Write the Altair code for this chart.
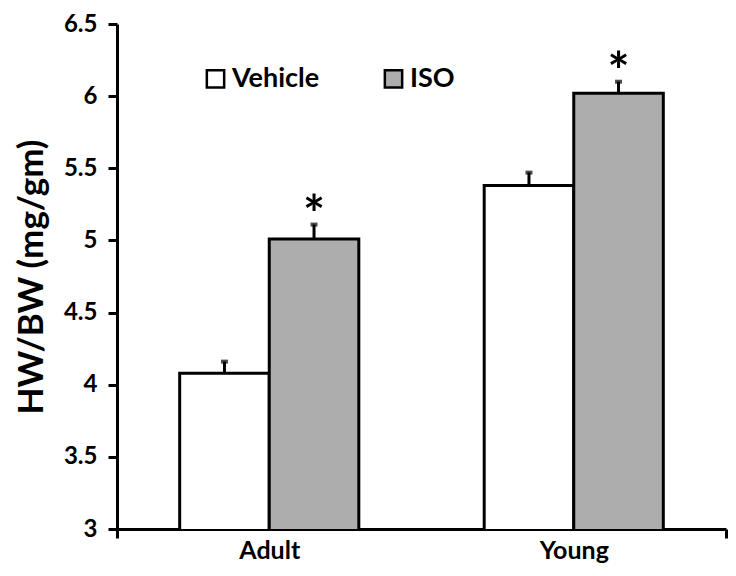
import altair as alt
import pandas as pd

categories = ["Adult", "Young"]
treatments = ["Vehicle", "ISO"]
vehicle_means = [4.08, 5.38]
iso_means = [5.01, 6.02]
vehicle_err = [0.08, 0.09]
iso_err = [0.10, 0.08]
iso_sig = ["*", "*"]
y_ticks = [3, 3.5, 4, 4.5, 5, 5.5, 6, 6.5]

rows = []
for i, c in enumerate(categories):
    rows.append({"group": c, "treatment": "Vehicle", "mean": vehicle_means[i],
                 "upper": vehicle_means[i] + vehicle_err[i], "sig": ""})
    rows.append({"group": c, "treatment": "ISO", "mean": iso_means[i],
                 "upper": iso_means[i] + iso_err[i], "sig": iso_sig[i]})
df = pd.DataFrame(rows)

FONT = "Lato"

x_enc = alt.X("group:N", sort=categories,
              scale=alt.Scale(paddingInner=0, paddingOuter=0),
              axis=alt.Axis(title=None, labelAngle=0, labelFont=FONT, labelFontSize=25,
                            labelFontWeight="bold", labelColor="black", labelPadding=0,
                            domainColor="black", domainWidth=3, tickColor="black",
                            tickWidth=3, tickSize=9, tickBand="extent",
                            tickOpacity=alt.condition("datum.value == 'Adult'", alt.value(0), alt.value(1))))
xo_enc = alt.XOffset("treatment:N", sort=treatments,
                     scale=alt.Scale(paddingInner=0, paddingOuter=0.70))
y_scale = alt.Scale(domain=[3, 6.5], nice=False, zero=False)

bars = alt.Chart(df).mark_bar(stroke="black", strokeWidth=3, clip=True).encode(
    x=x_enc,
    xOffset=xo_enc,
    y=alt.Y("mean:Q", scale=y_scale,
            axis=alt.Axis(title="HW/BW (mg/gm)", values=y_ticks, format="~g", grid=False,
                          labelFont=FONT, labelFontSize=24, labelFontWeight="bold",
                          labelColor="black", labelPadding=11,
                          titleFont=FONT, titleFontSize=35, titleFontWeight="bold",
                          titleColor="black", titlePadding=14,
                          domainColor="black", domainWidth=3, tickColor="black",
                          tickWidth=3, tickSize=9)),
    fill=alt.Fill("treatment:N", sort=treatments,
                  scale=alt.Scale(domain=treatments, range=["#ffffff", "#adadad"]),
                  legend=alt.Legend(title=None, orient="none", legendX=85, legendY=41,
                                    direction="horizontal", columns=2, symbolType="square",
                                    symbolSize=300, symbolStrokeColor="black",
                                    symbolStrokeWidth=2.5, labelFont=FONT, labelFontSize=27,
                                    labelFontWeight="bold", labelColor="black",
                                    labelOffset=3, columnPadding=59, padding=0)),
)

err = alt.Chart(df).mark_rule(color="black", strokeWidth=3).encode(
    x=alt.X("group:N", sort=categories), xOffset=xo_enc,
    y=alt.Y("mean:Q", scale=y_scale), y2="upper:Q")

caps = alt.Chart(df).mark_tick(color="black", thickness=4, size=7).encode(
    x=alt.X("group:N", sort=categories), xOffset=xo_enc,
    y=alt.Y("upper:Q", scale=y_scale))

stars = alt.Chart(df).mark_text(font=FONT, fontSize=52, fontWeight="bold", color="black",
                                baseline="middle", dy=-8).encode(
    x=alt.X("group:N", sort=categories), xOffset=xo_enc,
    y=alt.Y("upper:Q", scale=y_scale), text="sig:N")

chart = alt.layer(bars, err, caps, stars).properties(
    width=609, height=505,
    autosize=alt.AutoSizeParams(type="none"),
    padding={"left": 109, "top": 16, "right": 2, "bottom": 39},
).configure_view(stroke=None)

chart.save("out.html", embed_options={"renderer": "svg", "actions": False})
